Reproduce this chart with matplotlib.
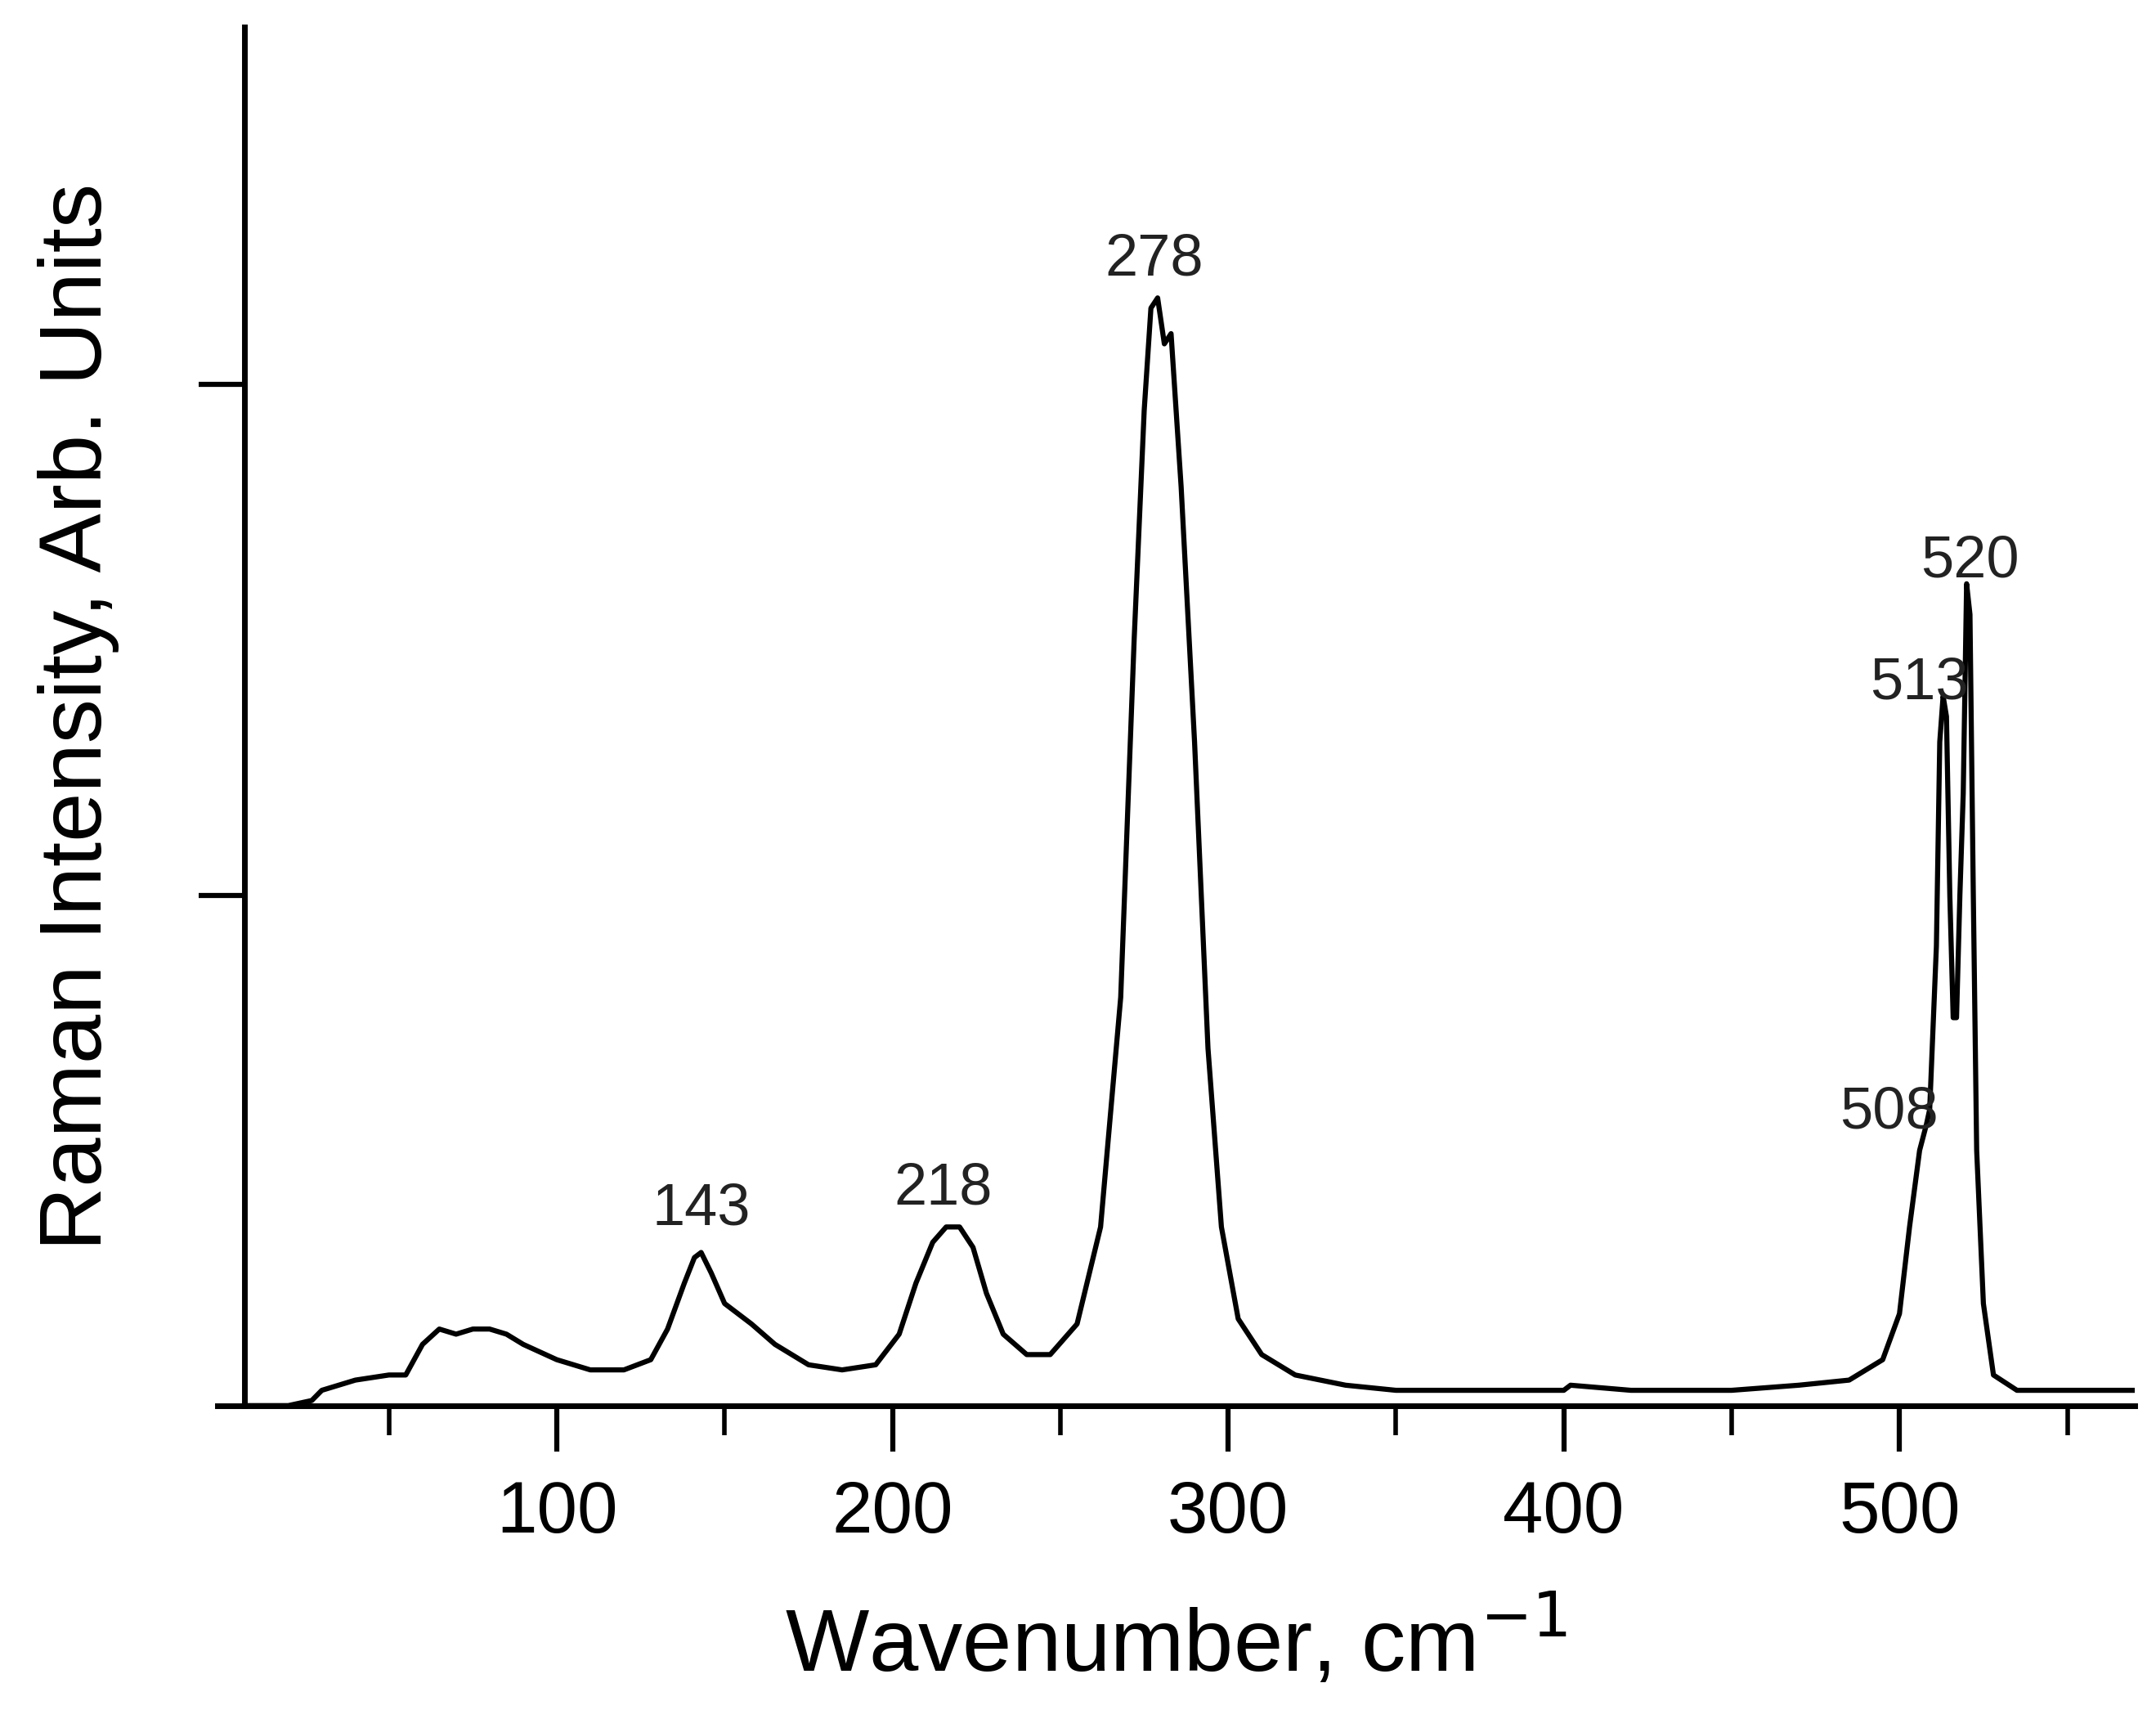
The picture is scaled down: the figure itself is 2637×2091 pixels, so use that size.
import matplotlib
matplotlib.use("Agg")
import matplotlib.pyplot as plt

wn = [8, 20, 27, 30, 40, 50, 55, 60, 65, 70, 75, 80, 85, 90, 100, 110, 120, 128, 133, 138, 141, 143, 146, 150, 158, 165, 175, 185, 195, 202, 207, 212, 216, 220, 224, 228, 233, 240, 247, 255, 262, 268, 272, 275, 277, 279, 281, 283, 286, 290, 294, 298, 303, 310, 320, 335, 350, 380, 400, 402, 420, 450, 470, 485, 495, 500, 503, 506, 508, 509, 511, 512, 513, 514, 515, 516, 517, 518, 519, 520, 521, 522, 523, 525, 528, 535, 550, 570]
inten = [0.0, 0.0, 0.01, 0.03, 0.05, 0.06, 0.06, 0.12, 0.15, 0.14, 0.15, 0.15, 0.14, 0.12, 0.09, 0.07, 0.07, 0.09, 0.15, 0.24, 0.29, 0.30, 0.26, 0.20, 0.16, 0.12, 0.08, 0.07, 0.08, 0.14, 0.24, 0.32, 0.35, 0.35, 0.31, 0.22, 0.14, 0.10, 0.10, 0.16, 0.35, 0.80, 1.50, 1.95, 2.15, 2.17, 2.08, 2.10, 1.80, 1.30, 0.70, 0.35, 0.17, 0.10, 0.06, 0.04, 0.03, 0.03, 0.03, 0.04, 0.03, 0.03, 0.04, 0.05, 0.09, 0.18, 0.35, 0.50, 0.55, 0.58, 0.90, 1.30, 1.39, 1.35, 1.00, 0.76, 0.76, 1.00, 1.20, 1.61, 1.55, 1.00, 0.50, 0.20, 0.06, 0.03, 0.03, 0.03]

peak_labels = ["143", "218", "278", "508", "513", "520"]
label_x = [143, 215, 278, 497, 506, 521]
label_y = [0.33, 0.37, 2.19, 0.52, 1.36, 1.60]

plt.rcParams['font.family'] = ['Liberation Sans', 'DejaVu Sans']
fig = plt.figure(figsize=(26.37, 20.91), dpi=100)
ax = fig.add_axes([0.101, 0.178, 0.889, 0.806])
ax.plot(wn, inten, color='black', lw=4.5)
ax.set_xlim(-1, 570)
ax.set_ylim(0, 2.7)
ax.spines['left'].set_position(('data', 7))
ax.spines['right'].set_visible(False)
ax.spines['top'].set_visible(False)
for s in ['left', 'bottom']:
    ax.spines[s].set_linewidth(5)
ax.set_xticks([100, 200, 300, 400, 500])
ax.set_xticks([50, 150, 250, 350, 450, 550], minor=True)
ax.set_yticks([1, 2])
ax.set_yticklabels([])
ax.tick_params(axis='both', which='major', direction='out', length=40, width=4.5, labelsize=64, pad=25)
ax.tick_params(axis='x', which='minor', direction='out', length=26, width=4)
for lx, ly, t in zip(label_x, label_y, peak_labels):
    ax.text(lx, ly, t, ha='center', va='bottom', fontsize=52, color='#222222')
ax.set_xlabel('Wavenumber, cm$^{-1}$', fontsize=78, labelpad=40)
ax.set_ylabel('Raman Intensity, Arb. Units', fontsize=78, labelpad=45)
fig.savefig('out.png', dpi=100)
